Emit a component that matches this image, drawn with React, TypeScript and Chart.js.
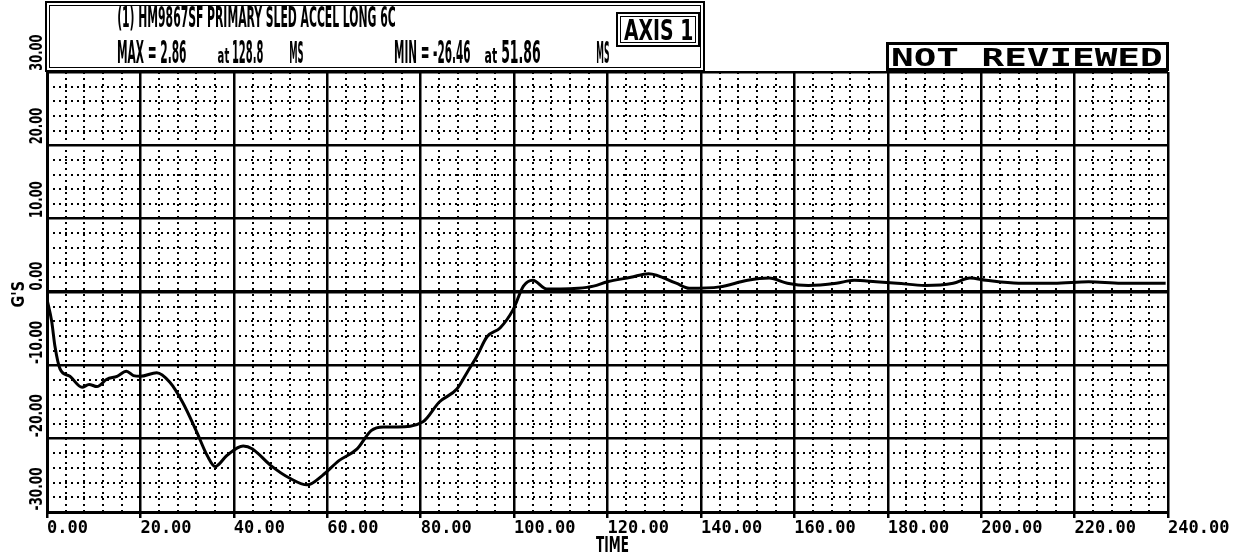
import React, { useEffect, useRef } from "react";
import { Chart, registerables } from "chart.js";

Chart.register(...registerables);

// ---- data ----
const timeMs = [
  0, 1, 1.7, 2.8, 4.9, 7.5, 9, 10.7, 12.8, 15, 17, 18.5, 20, 23.5, 26.3, 29, 32,
  34.3, 36, 38.5, 42, 44, 47.8, 52, 55.7, 59, 62.5, 66.4, 69.4, 72, 75, 80.5, 84,
  87.8, 90, 92, 94.2, 97, 99.8, 102, 104, 107, 110, 113.7, 117, 120, 125, 128.8,
  134.7, 137.5, 144, 150, 154.6, 158.5, 163, 169, 172.8, 177.5, 182, 188, 194,
  197.6, 201, 208, 215.6, 223, 230, 239.5,
];
const accelG = [
  -1.0, -4.0, -7.4, -10.5, -11.5, -13.0, -12.6, -12.9, -11.9, -11.5, -10.8, -11.4,
  -11.5, -11.0, -12.3, -15.0, -19.0, -22.3, -23.8, -22.3, -21.0, -21.4, -23.6,
  -25.4, -26.3, -25.0, -23.0, -21.4, -18.9, -18.4, -18.4, -17.7, -15.0, -13.2,
  -10.9, -8.8, -6.1, -4.9, -2.4, 0.8, 1.6, 0.4, 0.4, 0.5, 0.8, 1.4, 2.0, 2.5, 1.2,
  0.5, 0.7, 1.6, 1.9, 1.2, 0.9, 1.2, 1.6, 1.4, 1.2, 0.9, 1.2, 1.9, 1.6, 1.2, 1.2,
  1.4, 1.2, 1.2,
];
const yTickValues = [30, 20, 10, 0, -10, -20, -30];
const xMin = 0;
const xMax = 240;
const xMajorStep = 20;
const xMinorStep = 4;
const yMin = -30;
const yMax = 30;
const yMajorStep = 10;
const yMinorStep = 2;

const titleLine1 = "(1) HM9867SF PRIMARY SLED ACCEL LONG 6C";
const statTexts = ["MAX = 2.86", "at", "128.8", "MS", "MIN = -26.46", "at", "51.86", "MS"];
const axisBoxText = "AXIS 1";
const reviewText = "NOT REVIEWED";
const xAxisTitle = "TIME";
const yAxisTitle = "G'S";

const FONT = 'bold 100px "DejaVu Sans"';
const MONO = 'bold 100px "DejaVu Sans Mono"';

function drawFit(
  ctx: CanvasRenderingContext2D,
  text: string,
  x: number,
  y: number,
  w: number,
  h: number,
  font: string = FONT
) {
  ctx.save();
  ctx.font = font;
  ctx.textAlign = "left";
  ctx.textBaseline = "alphabetic";
  const m = ctx.measureText(text);
  const tw = m.actualBoundingBoxLeft + m.actualBoundingBoxRight;
  const th = m.actualBoundingBoxAscent + m.actualBoundingBoxDescent;
  ctx.translate(x, y);
  ctx.scale(w / tw, h / th);
  ctx.fillStyle = "#000";
  ctx.fillText(text, m.actualBoundingBoxLeft, m.actualBoundingBoxAscent);
  ctx.restore();
}

function drawFitRot(
  ctx: CanvasRenderingContext2D,
  text: string,
  cx: number,
  yStart: number,
  len: number,
  thick: number,
  font: string = FONT
) {
  ctx.save();
  ctx.translate(cx, yStart);
  ctx.rotate(-Math.PI / 2);
  drawFit(ctx, text, 0, -thick / 2, len, thick, font);
  ctx.restore();
}

const minorGrid = {
  id: "minorGrid",
  beforeDatasetsDraw(chart: any) {
    const { ctx, chartArea, scales } = chart;
    const { left, right, top, bottom } = chartArea;
    const x = scales.x;
    const y = scales.y;
    ctx.save();
    ctx.strokeStyle = "#000";
    ctx.lineWidth = 2;
    ctx.setLineDash([2, 4]);
    ctx.beginPath();
    for (let t = xMin; t <= xMax; t += xMinorStep) {
      if (t % xMajorStep === 0) continue;
      const px = Math.round(x.getPixelForValue(t));
      ctx.moveTo(px, top);
      ctx.lineTo(px, bottom);
    }
    for (let v = yMin; v <= yMax; v += yMinorStep) {
      if (v % yMajorStep === 0) continue;
      const py = Math.round(y.getPixelForValue(v));
      ctx.moveTo(left, py);
      ctx.lineTo(right, py);
    }
    ctx.stroke();
    ctx.restore();
  },
};

const annotations = {
  id: "annotations",
  afterDraw(chart: any) {
    const { ctx, scales } = chart;
    const y = scales.y;
    ctx.save();
    ctx.strokeStyle = "#000";
    ctx.fillStyle = "#000";

    // y tick labels, rotated
    yTickValues.forEach((v) => {
      const label = v.toFixed(2);
      const py = y.getPixelForValue(v);
      drawFitRot(ctx, label, 35, py - 2, label.length * 7, 14);
    });
    // y axis title
    drawFitRot(ctx, yAxisTitle, 17, 307, 25, 14);

    // x axis title
    drawFit(ctx, xAxisTitle, 596, 537, 32, 15);

    // title box
    ctx.lineWidth = 2;
    ctx.strokeRect(46, 2, 658, 69);
    ctx.lineWidth = 1;
    ctx.strokeRect(49.5, 5.5, 651, 62);
    drawFit(ctx, titleLine1, 118, 6, 277, 25);

    const statBoxes = [
      [118, 186, 39, 24],
      [218, 229, 48, 15],
      [233, 263, 39, 24],
      [290, 303, 40, 23],
      [395, 470, 39, 24],
      [485, 497, 48, 15],
      [502, 540, 39, 24],
      [597, 609, 40, 23],
    ];
    statTexts.forEach((t, i) => {
      const [x0, x1, yt, h] = statBoxes[i];
      drawFit(ctx, t, x0, yt, x1 - x0, h);
    });

    // AXIS 1 box
    ctx.lineWidth = 2;
    ctx.strokeRect(617, 13, 82, 33);
    ctx.lineWidth = 1;
    ctx.strokeRect(620.5, 16.5, 75, 26);
    drawFit(ctx, axisBoxText, 624, 19, 68, 21);

    // NOT REVIEWED box
    ctx.lineWidth = 3;
    ctx.strokeRect(887.5, 43.5, 280, 26);
    drawFit(ctx, reviewText, 893, 47, 268, 19, MONO);

    ctx.restore();
  },
};

export default function App() {
  const ref = useRef<HTMLCanvasElement | null>(null);

  useEffect(() => {
    const canvas = ref.current;
    if (!canvas) return;
    const chart = new Chart(canvas, {
      type: "line",
      data: {
        datasets: [
          {
            data: timeMs.map((t, i) => ({ x: t, y: accelG[i] })),
            borderColor: "#000",
            borderWidth: 3,
            pointRadius: 0,
            cubicInterpolationMode: "monotone",
            fill: false,
          },
        ],
      },
      options: {
        responsive: false,
        maintainAspectRatio: false,
        animation: false,
        layout: { padding: { left: 0, top: 72, right: 74, bottom: 0 } },
        plugins: {
          legend: { display: false },
          tooltip: { enabled: false },
          title: { display: false },
        },
        scales: {
          x: {
            type: "linear",
            min: xMin,
            max: xMax,
            ticks: {
              stepSize: xMajorStep,
              autoSkip: false,
              maxRotation: 0,
              minRotation: 0,
              align: "start",
              color: "#000",
              padding: 0,
              font: { family: '"DejaVu Sans Mono"', size: 17, weight: "bold" },
              callback: (v: any) => Number(v).toFixed(2),
            },
            grid: { color: "#000", lineWidth: 2.5, tickLength: 6, drawTicks: true },
            border: { color: "#000", width: 3 },
            afterFit: (s: any) => {
              s.height = 42;
            },
          },
          y: {
            type: "linear",
            min: yMin,
            max: yMax,
            ticks: { stepSize: yMajorStep, display: false },
            grid: {
              color: "#000",
              lineWidth: (c: any) => (c.tick && c.tick.value === 0 ? 3.5 : 2.5),
              drawTicks: false,
            },
            border: { color: "#000", width: 3 },
            afterFit: (s: any) => {
              s.width = 47;
            },
          },
        },
      } as any,
      plugins: [minorGrid, annotations],
    });
    return () => chart.destroy();
  }, []);

  return (
    <div style={{ position: "absolute", left: 0, top: 0, width: 1242, height: 554, background: "#fff" }}>
      <canvas ref={ref} width={1242} height={554} style={{ display: "block", width: 1242, height: 554 }} />
    </div>
  );
}
